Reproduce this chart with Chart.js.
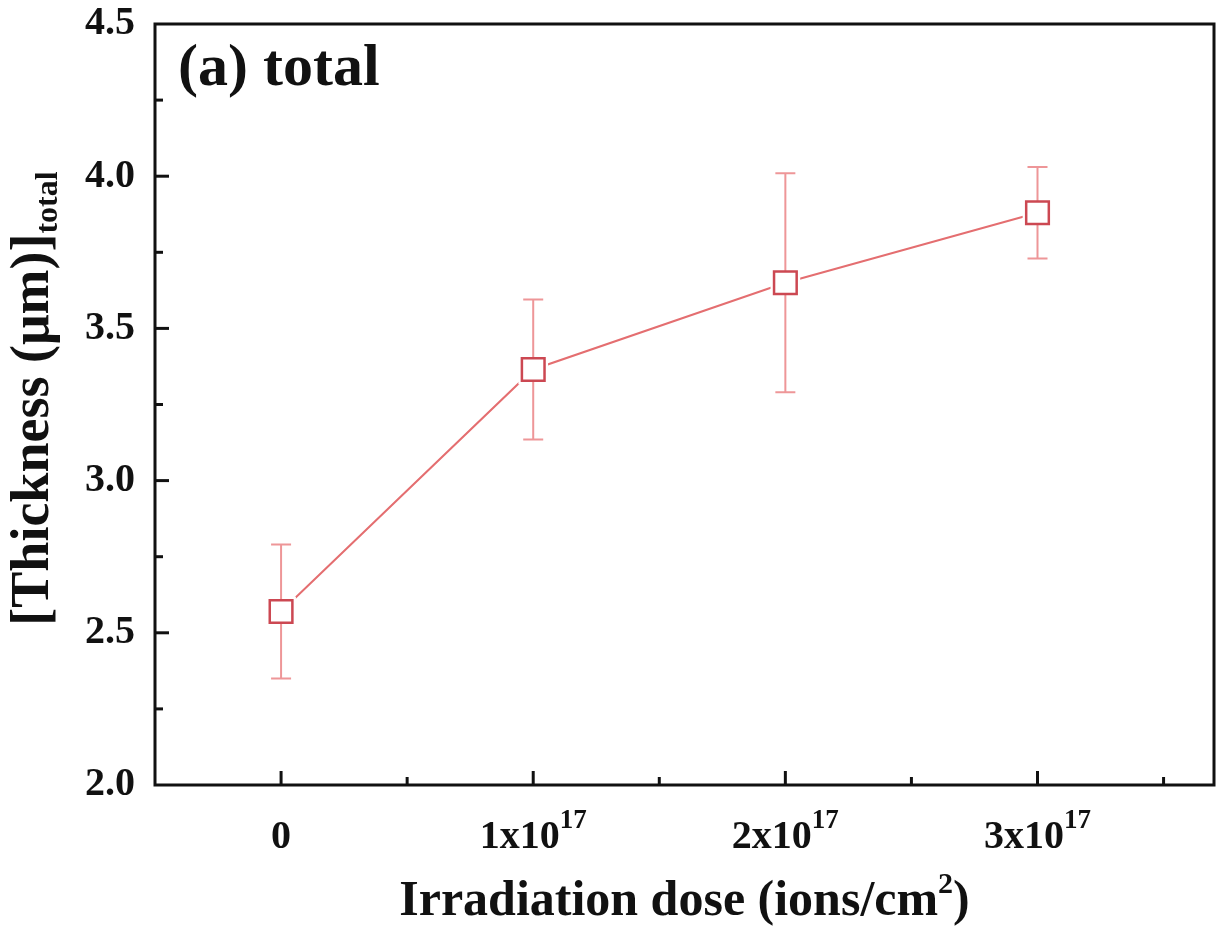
<!DOCTYPE html>
<html>
<head>
<meta charset="utf-8">
<script src="https://cdn.jsdelivr.net/npm/chart.js@4"></script>
<style>
  html, body { margin: 0; padding: 0; background: #ffffff; overflow: hidden; }
  canvas { display: block; }
</style>
</head>
<body>
<canvas id="c" width="1216" height="928" style="width:1216px;height:928px"></canvas>
<script>
// ---------- data ----------
const categories = ['0', '1x10^17', '2x10^17', '3x10^17'];
const doseIndex = [0, 1, 2, 3];
const thickness = [2.57, 3.365, 3.65, 3.88];
const errLow = [2.35, 3.135, 3.29, 3.73];
const errHigh = [2.79, 3.595, 4.01, 4.03];
const xTickBase = ['0', '1x10', '2x10', '3x10'];
const xTickSup = ['', '17', '17', '17'];
const yTickValues = [2.0, 2.5, 3.0, 3.5, 4.0, 4.5];

const panelLabel = '(a) total';
const xTitle = ['Irradiation dose (ions/cm', '2', ')'];
const yTitle = ['[Thickness (\u03bcm)]', 'total'];

// ---------- styles ----------
const FONT = '"Liberation Serif", "Times New Roman", serif';
const lineColor = 'rgb(228, 110, 112)';
const markerColor = 'rgb(204, 72, 82)';
const errColor = 'rgb(238, 150, 152)';

const pts = doseIndex.map((x, i) => ({ x: x, y: thickness[i] }));

function drawSegments(ctx, segs, x, y) {
  let cx = x;
  segs.forEach(s => {
    ctx.font = 'bold ' + s.size + 'px ' + FONT;
    ctx.fillText(s.t, cx, y - (s.rise || 0));
    cx += ctx.measureText(s.t).width;
  });
}
function segWidth(ctx, segs) {
  let w = 0;
  segs.forEach(s => { ctx.font = 'bold ' + s.size + 'px ' + FONT; w += ctx.measureText(s.t).width; });
  return w;
}
function zeroPad(s) { s.paddingTop = 0; s.paddingBottom = 0; s.paddingLeft = 0; s.paddingRight = 0; }

const customDraw = {
  id: 'customDraw',
  afterDatasetDraw(chart, args) {
    if (args.index !== 1) return;
    const ctx = chart.ctx, xs = chart.scales.x, ys = chart.scales.y;
    ctx.save();
    ctx.strokeStyle = errColor;
    ctx.lineWidth = 2;
    doseIndex.forEach((d, i) => {
      const px = xs.getPixelForValue(d);
      const top = ys.getPixelForValue(errHigh[i]);
      const bot = ys.getPixelForValue(errLow[i]);
      ctx.beginPath();
      ctx.moveTo(px, top); ctx.lineTo(px, bot);
      ctx.moveTo(px - 10, top); ctx.lineTo(px + 10, top);
      ctx.moveTo(px - 10, bot); ctx.lineTo(px + 10, bot);
      ctx.stroke();
    });
    ctx.restore();
  },
  afterDraw(chart) {
    const ctx = chart.ctx, a = chart.chartArea, xs = chart.scales.x, ys = chart.scales.y;
    ctx.save();
    // frame
    ctx.strokeStyle = '#111';
    ctx.lineWidth = 3;
    ctx.strokeRect(a.left, a.top, a.right - a.left, a.bottom - a.top);
    // x ticks (inward)
    ctx.lineWidth = 3;
    xs.ticks.forEach(t => {
      const v = t.value;
      if (Math.abs(v * 2 - Math.round(v * 2)) > 1e-6) return;
      const px = xs.getPixelForValue(v);
      if (px < a.left + 4 || px > a.right - 4) return;
      const major = Math.abs(v - Math.round(v)) < 1e-6;
      ctx.beginPath();
      ctx.moveTo(px, a.bottom);
      ctx.lineTo(px, a.bottom - (major ? 14 : 8));
      ctx.stroke();
    });
    // y ticks (inward), major + minor
    for (let v = ys.min; v <= ys.max + 1e-6; v += 0.25) {
      const py = ys.getPixelForValue(v);
      if (py > a.bottom - 4 || py < a.top + 4) continue;
      const major = Math.abs(v * 2 - Math.round(v * 2)) < 1e-6;
      ctx.beginPath();
      ctx.moveTo(a.left, py);
      ctx.lineTo(a.left + (major ? 14 : 8), py);
      ctx.stroke();
    }
    // x tick labels
    ctx.fillStyle = '#111';
    ctx.textBaseline = 'alphabetic';
    ctx.textAlign = 'left';
    doseIndex.forEach((d, i) => {
      const segs = [{ t: xTickBase[i], size: 40 }];
      if (xTickSup[i]) segs.push({ t: xTickSup[i], size: 27, rise: 20 });
      const w = segWidth(ctx, segs);
      const px = xs.getPixelForValue(d);
      drawSegments(ctx, segs, px - w / 2, 848);
    });
    // x title
    const xs1 = [{ t: xTitle[0], size: 50 }, { t: xTitle[1], size: 30, rise: 22 }, { t: xTitle[2], size: 50 }];
    const xw = segWidth(ctx, xs1);
    drawSegments(ctx, xs1, (a.left + a.right) / 2 - xw / 2, 915);
    // y title (rotated)
    const ys1 = [{ t: yTitle[0], size: 54 }, { t: yTitle[1], size: 32, rise: -9 }];
    const yw = segWidth(ctx, ys1);
    ctx.save();
    ctx.translate(48, (a.top + a.bottom) / 2 - 6);
    ctx.rotate(-Math.PI / 2);
    drawSegments(ctx, ys1, -yw / 2, 0);
    ctx.restore();
    // panel label
    ctx.font = 'bold 60px ' + FONT;
    ctx.fillText(panelLabel, 178, 85);
    ctx.restore();
  }
};

new Chart(document.getElementById('c'), {
  type: 'scatter',
  data: {
    datasets: [
      {
        label: 'markers',
        data: pts,
        showLine: false,
        pointStyle: 'rect',
        pointRadius: 16,
        pointHoverRadius: 16,
        pointBackgroundColor: '#ffffff',
        pointBorderColor: markerColor,
        pointBorderWidth: 2.5,
        order: 0
      },
      {
        label: 'halo',
        data: pts,
        showLine: false,
        pointStyle: 'rect',
        pointRadius: 21,
        pointHoverRadius: 21,
        pointBackgroundColor: '#ffffff',
        pointBorderColor: '#ffffff',
        pointBorderWidth: 0,
        order: 1
      },
      {
        label: 'line',
        data: pts,
        showLine: true,
        borderColor: lineColor,
        borderWidth: 2,
        pointRadius: 0,
        pointHoverRadius: 0,
        fill: false,
        tension: 0,
        order: 2
      }
    ]
  },
  options: {
    responsive: false,
    devicePixelRatio: 1,
    animation: false,
    events: [],
    layout: { autoPadding: false, padding: { left: 0, right: 2, top: 24, bottom: 0 } },
    plugins: {
      legend: { display: false },
      tooltip: { enabled: false },
      title: { display: false }
    },
    scales: {
      x: {
        type: 'linear',
        min: -0.5,
        max: 3.7,
        grid: { display: false, drawTicks: false },
        border: { display: false },
        ticks: { display: false, stepSize: 0.5 },
        afterFit: (s) => { s.height = 143; zeroPad(s); }
      },
      y: {
        type: 'linear',
        min: yTickValues[0],
        max: yTickValues[yTickValues.length - 1],
        grid: { display: false, drawTicks: false },
        border: { display: false },
        ticks: {
          stepSize: 0.5,
          padding: 20,
          color: '#111',
          font: { family: FONT, weight: 'bold', size: 40 },
          callback: (v) => Number(v).toFixed(1)
        },
        afterFit: (s) => { s.width = 155; zeroPad(s); }
      }
    }
  },
  plugins: [customDraw]
});
</script>
</body>
</html>
